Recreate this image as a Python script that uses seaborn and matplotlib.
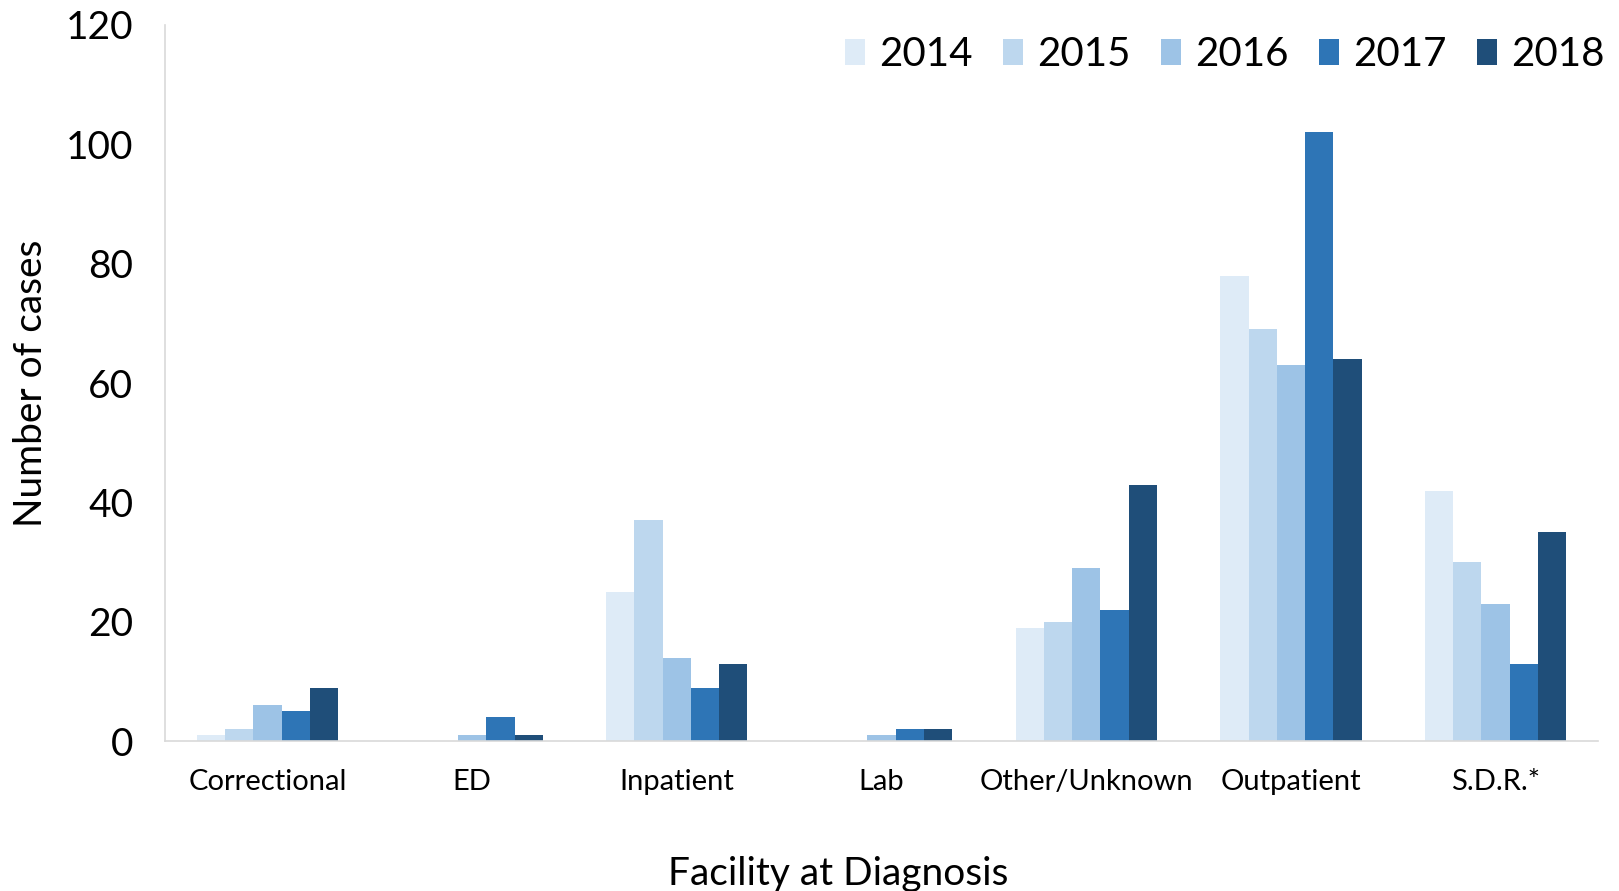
import pandas as pd
import numpy as np
import matplotlib.pyplot as plt
import seaborn as sns

# data
facilities = ['Correctional', 'ED', 'Inpatient', 'Lab', 'Other/Unknown', 'Outpatient', 'S.D.R.*']
years = ['2014', '2015', '2016', '2017', '2018']
cases_2014 = [1, 0, 25, 0, 19, 78, 42]
cases_2015 = [2, 0, 37, 0, 20, 69, 30]
cases_2016 = [6, 1, 14, 1, 29, 63, 23]
cases_2017 = [5, 4, 9, 2, 22, 102, 13]
cases_2018 = [9, 1, 13, 2, 43, 64, 35]
colors = ['#DEEBF7', '#BDD7EE', '#9DC3E6', '#2E75B6', '#1F4E79']

rows = []
for yr, vals in zip(years, [cases_2014, cases_2015, cases_2016, cases_2017, cases_2018]):
    for fac, v in zip(facilities, vals):
        rows.append({'Facility': fac, 'Year': yr, 'Cases': v})
df = pd.DataFrame(rows)

sns.set_style('white')
plt.rcParams['font.family'] = ['Lato', 'DejaVu Sans']
plt.rcParams['text.color'] = 'black'
plt.rcParams['axes.labelcolor'] = 'black'
plt.rcParams['xtick.color'] = 'black'
plt.rcParams['ytick.color'] = 'black'

fig = plt.figure(figsize=(16.19, 8.91), dpi=100)
ax = fig.add_axes([0.102, 0.168, 0.885, 0.804])

sns.barplot(data=df, x='Facility', y='Cases', hue='Year', order=facilities,
            hue_order=years, palette=colors, width=0.69, gap=0,
            saturation=1, edgecolor='none', ax=ax)

ax.set_xlim(-0.5, len(facilities) - 0.5)
ax.set_ylim(0, 120)
ax.set_yticks(np.arange(0, 121, 20))
ax.tick_params(axis='y', labelsize=28, length=0, pad=23)

# category dividers as tick marks, labels centred without marks
ax.set_xticks(np.arange(len(facilities)))
ax.set_xticklabels(facilities, fontsize=21)
ax.tick_params(axis='x', which='major', length=0, pad=20)
ax.set_xticks(np.arange(-0.5, len(facilities)), minor=True)
ax.tick_params(axis='x', which='minor', length=10, width=1.2, color='#D9D9D9', direction='out')

for side in ['top', 'right']:
    ax.spines[side].set_visible(False)
ax.spines['left'].set_color('#D9D9D9')
ax.spines['bottom'].set_color('#D9D9D9')
ax.spines['left'].set_linewidth(1.2)
ax.spines['bottom'].set_linewidth(1.2)

ax.set_ylabel('Number of cases', fontsize=28, labelpad=12)
ax.set_xlabel('Facility at Diagnosis', fontsize=28)
ax.xaxis.set_label_coords(0.47, -0.16)

ax.legend(loc='upper right', bbox_to_anchor=(1.03, 1.035), ncol=5, frameon=False,
          fontsize=29, handlelength=0.5, handleheight=0.6, handletextpad=0.35,
          columnspacing=0.75)

fig.savefig('out.png', dpi=100)
